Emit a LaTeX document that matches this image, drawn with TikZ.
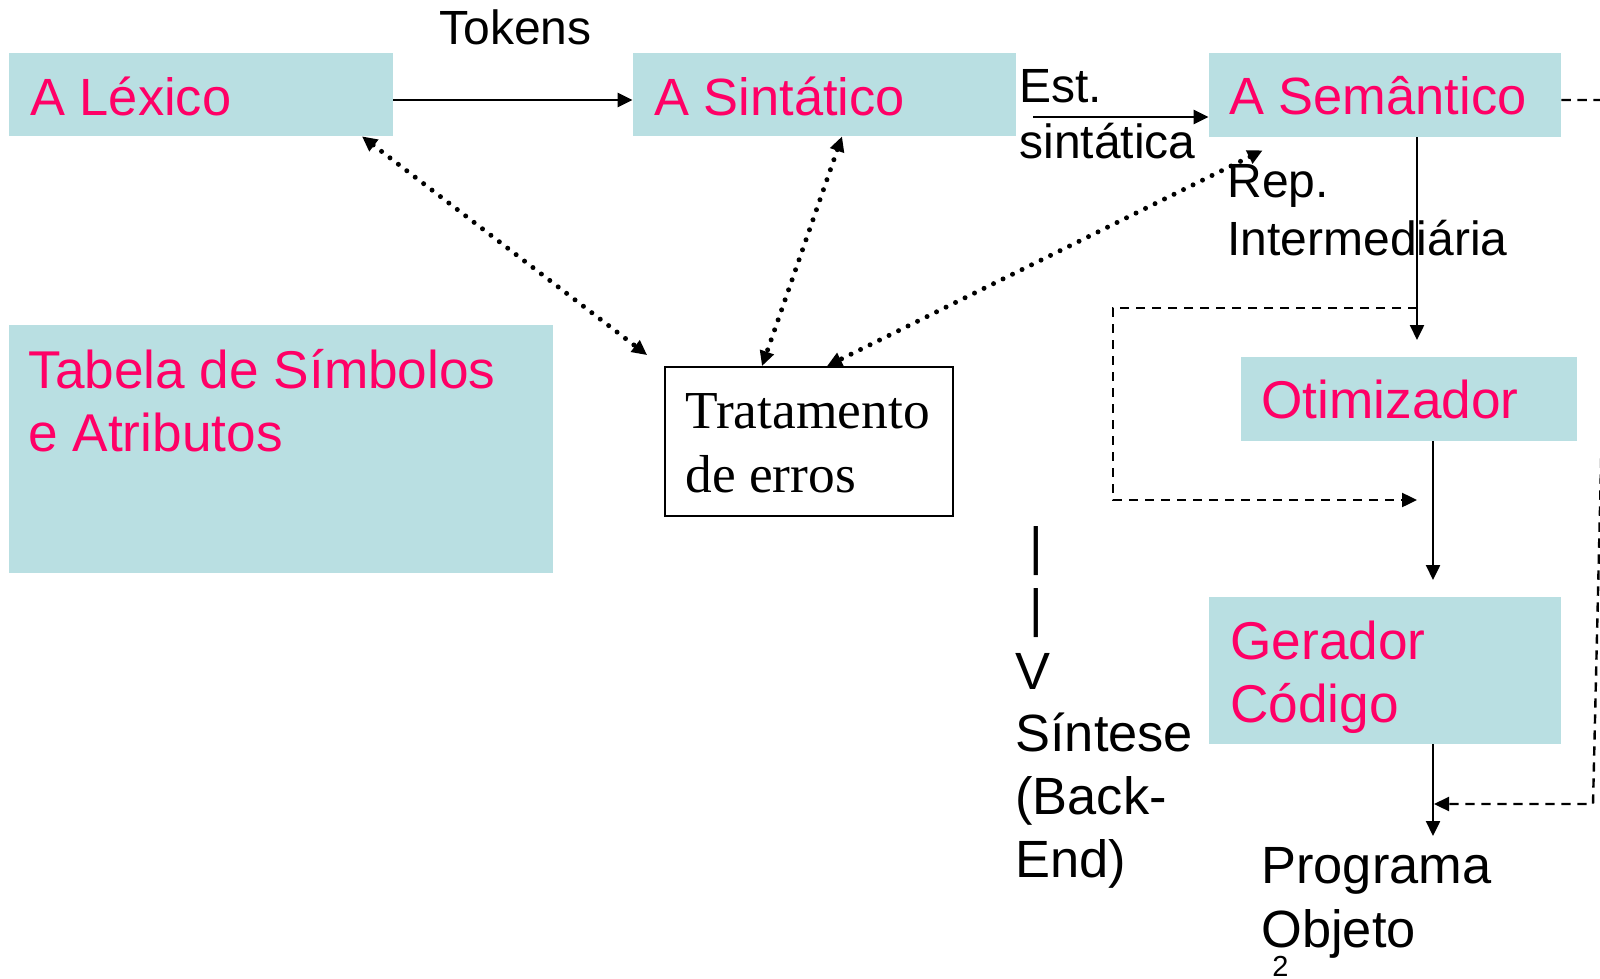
\documentclass[tikz,border=0pt]{standalone}
\usepackage{fontspec}
\setmainfont{Liberation Sans}
\newfontfamily\serifface{Liberation Serif}
\usetikzlibrary{arrows.meta,fit,calc}
\definecolor{boxfill}{RGB}{185,223,226}
\definecolor{boxtext}{RGB}{255,0,102}
\begin{document}
\begin{tikzpicture}[x=0.5pt,y=-0.5pt,
  box/.style={fill=boxfill, draw=none, inner sep=0pt},
  title/.style={anchor=base west, inner sep=0pt, text=boxtext, align=left,
    font=\fontsize{26.6}{31.5}\selectfont},
  phase/.style={title, font=\fontsize{26.2}{31.5}\selectfont},
  note/.style={anchor=base west, inner sep=0pt, align=left,
    font=\fontsize{24}{31.5}\selectfont},
  tip/.style={-{Triangle[length=7.5pt,width=7pt]}},
  flow/.style={tip, line width=1.2pt},
  dashflow/.style={tip, line width=1.2pt, dash pattern=on 4.7pt off 3.3pt},
  dotlink/.style={{Triangle[length=7.5pt,width=7pt]}-{Triangle[length=7.5pt,width=7pt]},
    line width=2.5pt, line cap=round, dash pattern=on 0pt off 5.3pt},
]
\useasboundingbox (0,0) rectangle (1600,979);
\clip (0,0) rectangle (1600,979);

% phase boxes
\node[box, fit={(9,53) (393,136)}] (lex) {};
\node[box, fit={(633,53) (1016,136)}] (sin) {};
\node[box, fit={(1209,53) (1561,137)}] (sem) {};
\node[box, fit={(9,325) (553,573)}] (tab) {};
\node[box, fit={(1241,357) (1577,441)}] (oti) {};
\node[box, fit={(1209,597) (1561,744)}] (ger) {};
\node[draw, line width=0.9pt, inner sep=0pt, fit={(665,367) (953,516)}] (trat) {};

% box titles (multi-line nodes are placed by the baseline of their last line)
\node[phase] (lexT) at (30,116) {A Léxico};
\node[phase] (sinT) at (654,116) {A Sintático};
\node[phase] (semT) at (1229,115) {A Semântico};
\node[title] (tabT) at (28,451) {Tabela de Símbolos\\e Atributos};
\node[title] (otiT) at (1261,418) {Otimizador};
\node[title] (gerT) at (1230,722) {Gerador\\Código};
\node[anchor=base west, inner sep=0pt, align=left,
  font=\serifface\fontsize{26.7}{31.7}\selectfont] (tratT) at (685,492) {Tratamento\\de erros};

% plain labels
\node[note] (tok) at (439,45) {Tokens};
\node[note, font=\fontsize{24}{28}\selectfont] (est) at (1019,158) {Est.\\sintática};
\node[note, font=\fontsize{24}{29}\selectfont] (rep) at (1227,255) {Rep.\\Intermediária};
\node[note, font=\fontsize{26.2}{31.3}\selectfont] (sint) at (1015,877)
  {\hspace*{0.278em}|\\\hspace*{0.278em}|\\V\\Síntese\\(Back-\\End)};
\node[note, font=\fontsize{26.2}{32}\selectfont] (prog) at (1261,947) {Programa\\Objeto};
\node[anchor=base west, inner sep=0pt, font=\fontsize{14.5}{17}\selectfont] (pnum) at (1272,976) {2};

% free ends of connectors
\coordinate (estA) at (1033,117);
\coordinate (semOut) at (1417,340);
\coordinate (byA) at (1417,308);
\coordinate (byB) at (1417,500);
\coordinate (gerIn) at (1433,580);
\coordinate (progIn) at (1433,836);
\coordinate (fbEnd) at (1434,804);

% main flow
\draw[flow] (lex.east |- 0,100) -- (sin.west |- 0,100);
\draw[flow] (estA) -- (sem.west |- estA);
\draw[flow] (sem.south -| semOut) -- (semOut);
\draw[flow] (oti.south -| gerIn) -- (gerIn);
\draw[flow] (ger.south -| progIn) -- (progIn);

% bypass and feedback
\draw[dashflow] (byA) -- (1113,308) -- (1113,500) -- (byB);
\draw[dashflow] (sem.east |- 0,100) -- (1603,100) -- (1603,380) -- (1593,804) -- (fbEnd);

% error handling links
\draw[dotlink] (lex.south -| 362,0) -- ($(trat.north west)+(-17,-11)$);
\draw[dotlink] (sin.south -| 842,0) -- (trat.north -| 762,0);
\draw[dotlink] ($(sem.south west)+(54,13)$) -- (trat.north -| 827,0);
\end{tikzpicture}
\end{document}
